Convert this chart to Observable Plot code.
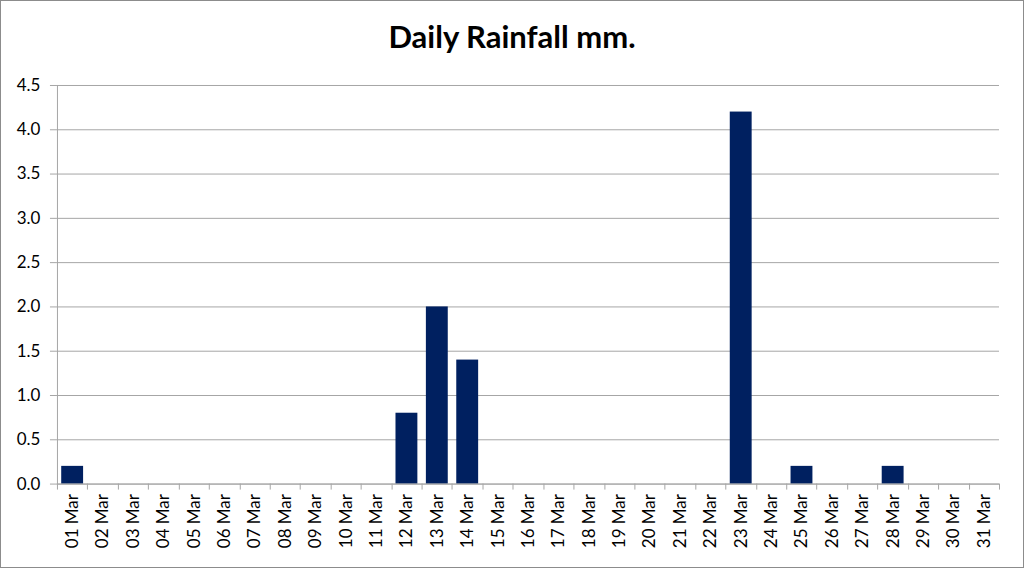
<!DOCTYPE html>
<html>
<head>
<meta charset="utf-8">
<script src="https://cdn.jsdelivr.net/npm/d3@7"></script>
<script src="https://cdn.jsdelivr.net/npm/@observablehq/plot@0.6"></script>
<style>
  html, body { margin: 0; padding: 0; background: #fff; }
  #wrap { position: relative; width: 1024px; height: 568px; box-sizing: border-box; border: 1px solid #8c8c8c; background: #fff; overflow: hidden; }
  #title { position: absolute; top: 15px; left: 0; width: 1022px; text-align: center; font-family: Lato, "Open Sans", sans-serif; font-weight: bold; font-size: 31px; color: #000; line-height: 40px; }
  #chart { position: absolute; top: 69px; left: -1px; }
</style>
</head>
<body>
<div id="wrap">
  <div id="title">Daily Rainfall mm.</div>
  <div id="chart"></div>
</div>
<script>
const days = ["01 Mar","02 Mar","03 Mar","04 Mar","05 Mar","06 Mar","07 Mar","08 Mar","09 Mar","10 Mar",
  "11 Mar","12 Mar","13 Mar","14 Mar","15 Mar","16 Mar","17 Mar","18 Mar","19 Mar","20 Mar",
  "21 Mar","22 Mar","23 Mar","24 Mar","25 Mar","26 Mar","27 Mar","28 Mar","29 Mar","30 Mar","31 Mar"];
const rainfall = [0.2,0,0,0,0,0,0,0,0,0,
  0,0.8,2.0,1.4,0,0,0,0,0,0,
  0,0,4.2,0,0.2,0,0,0.2,0,0,0];
const yTicks = [0,0.5,1.0,1.5,2.0,2.5,3.0,3.5,4.0,4.5];

const data = days.map((d, i) => ({day: d, mm: rainfall[i]}));
const padInner = 0.28;
const gridColor = "#a6a6a6";

function boundaryTicks(index, scales, values, dimensions) {
  const x = scales.x;
  const step = x(days[1]) - x(days[0]);
  const y0 = scales.y(0);
  const g = d3.create("svg:g").attr("stroke", gridColor).attr("stroke-width", 1);
  const xs = days.map(d => x(d) - step * padInner / 2);
  xs.push(x(days[days.length - 1]) + step - step * padInner / 2);
  for (const bx of xs) {
    const px = Math.round(bx) + 0.5;
    g.append("line").attr("x1", px).attr("x2", px).attr("y1", y0).attr("y2", y0 + 6);
  }
  g.append("line").attr("x1", xs[0]).attr("x2", xs[xs.length - 1])
    .attr("y1", Math.round(y0) + 0.5).attr("y2", Math.round(y0) + 0.5);
  return g.node();
}

const chart = Plot.plot({
  width: 1024,
  height: 498,
  marginTop: 15,
  marginBottom: 84,
  marginLeft: 57,
  marginRight: 24,
  style: {fontFamily: "Lato, 'Open Sans', sans-serif", fontSize: "17px", color: "#000", background: "transparent"},
  x: {domain: days, paddingInner: padInner, paddingOuter: padInner / 2, round: false, label: null},
  y: {domain: [0, 4.5], label: null},
  marks: [
    Plot.gridY(yTicks, {stroke: gridColor, strokeOpacity: 1}),
    Plot.axisY(yTicks, {tickSize: 7, tickPadding: 10, stroke: gridColor, fill: "#000", tickFormat: d3.format(".1f"), label: null}),
    Plot.barY(data, {x: "day", y: "mm", fill: "#002060"}),
    Plot.frame({anchor: "left", stroke: gridColor, strokeOpacity: 1}),
    boundaryTicks,
    Plot.axisX({tickSize: 0, tickRotate: -90, tickPadding: 10, fill: "#000", label: null})
  ]
});
document.getElementById("chart").appendChild(chart);
</script>
</body>
</html>
